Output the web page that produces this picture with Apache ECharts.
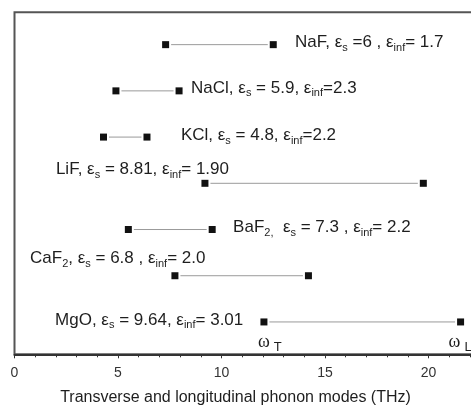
<!DOCTYPE html>
<html><head><meta charset="utf-8">
<script src="https://cdn.jsdelivr.net/npm/echarts@6/dist/echarts.min.js"></script>
<style>html,body{margin:0;padding:0;background:#fff}#c{width:471px;height:408px}</style>
</head><body><div id="c"></div>
<script>
// ---- data ----
const materials = ['NaF', 'NaCl', 'KCl', 'LiF', 'BaF2', 'CaF2', 'MgO'];
const rowIndex = [7, 6, 5, 4, 3, 2, 1];
const omegaT = [7.3, 4.9, 4.3, 9.2, 5.5, 7.75, 12.05];
const omegaL = [12.5, 7.95, 6.4, 19.75, 9.55, 14.2, 21.55];
const labelTexts = [
  'NaF, ε{s|s} =6 , ε{s|inf}= 1.7',
  'NaCl, ε{s|s} = 5.9, ε{s|inf}=2.3',
  'KCl, ε{s|s} = 4.8, ε{s|inf}=2.2',
  'LiF, ε{s|s} = 8.81, ε{s|inf}= 1.90',
  'BaF{s|2,}  ε{s|s} = 7.3 , ε{s|inf}= 2.2',
  'CaF{s|2}, ε{s|s} = 6.8 , ε{s|inf}= 2.0',
  'MgO, ε{s|s} = 9.64, ε{s|inf}= 3.01'
];
const xTickLabels = [0, 5, 10, 15, 20];
const omegaNames = ['ω{t|T}', 'ω{t|L}'];
const xTitle = 'Transverse and longitudinal phonon modes (THz)';

// ---- layout (label anchors, in THz along x and pixel offsets in y) ----
const labelX = [13.55, 8.53, 8.04, 2.0, 10.56, 0.75, 1.96];
const labelDy = [-2, -3, -2, -14, -2, -17, -2];
const omegaDx = [-6, -12];
const omegaDy = [20, 20];

const subRich = {
  s: { fontSize: 11, fontFamily: 'Liberation Sans', fill: '#1e1e1e', padding: [11, 0, 0, 0] },
  t: { fontSize: 13, fontFamily: 'Liberation Sans', fill: '#1e1e1e', padding: [10, 0, 0, 4] }
};

const chart = echarts.init(document.getElementById('c'));
const rows = materials.map((m, i) => [i, omegaT[i], omegaL[i], rowIndex[i]]);
const mgo = materials.indexOf('MgO');
const omegaData = [[0, omegaT[mgo], rowIndex[mgo]], [1, omegaL[mgo], rowIndex[mgo]]];

chart.setOption({
  animation: false,
  backgroundColor: '#fff',
  title: {
    text: xTitle, left: 'center', top: 390, padding: 0,
    textStyle: { fontSize: 16, fontWeight: 'normal', color: '#1e1e1e', fontFamily: 'Liberation Sans' }
  },
  grid: { left: 14.5, width: 517.5, top: 12.3, bottom: 53.7, show: true, borderColor: '#555', borderWidth: 2,
          outerBoundsMode: 'none', containLabel: false },
  xAxis: {
    type: 'value', min: 0, max: 25, interval: 5,
    axisLine: { show: true, lineStyle: { color: '#333', width: 2 } },
    axisTick: { show: true, length: 4, lineStyle: { color: '#333', width: 1 } },
    minorTick: { show: true, splitNumber: 5, length: 3, lineStyle: { color: '#333', width: 1 } },
    splitLine: { show: false },
    axisLabel: {
      fontSize: 14, color: '#333', margin: 12, fontFamily: 'Liberation Sans',
      showMaxLabel: false,
      formatter: v => (xTickLabels.indexOf(v) >= 0 ? String(v) : '')
    }
  },
  yAxis: { type: 'value', min: 0.3, max: 7.7, show: false },
  series: [
    {
      type: 'custom',
      data: rows,
      clip: false,
      renderItem: function (params, api) {
        const i = api.value(0);
        const y = api.value(3);
        const p1 = api.coord([api.value(1), y]);
        const p2 = api.coord([api.value(2), y]);
        const lp = api.coord([labelX[i], y]);
        const s = 7, gap = 2;
        return {
          type: 'group',
          children: [
            { type: 'line', shape: { x1: p1[0] + s / 2 + gap, y1: p1[1], x2: p2[0] - s / 2 - gap, y2: p2[1] },
              style: { stroke: '#9a9a9a', lineWidth: 1 } },
            { type: 'rect', shape: { x: p1[0] - s / 2, y: p1[1] - s / 2, width: s, height: s }, style: { fill: '#111' } },
            { type: 'rect', shape: { x: p2[0] - s / 2, y: p2[1] - s / 2, width: s, height: s }, style: { fill: '#111' } },
            { type: 'text', x: lp[0], y: lp[1] + labelDy[i],
              style: { text: labelTexts[i], rich: subRich, fontSize: 17, fontFamily: 'Liberation Sans',
                       fill: '#1e1e1e', align: 'left', verticalAlign: 'middle' } }
          ]
        };
      }
    },
    {
      type: 'custom',
      data: omegaData,
      clip: false,
      renderItem: function (params, api) {
        const k = api.value(0);
        const p = api.coord([api.value(1), api.value(2)]);
        return {
          type: 'text', x: p[0] + omegaDx[k], y: p[1] + omegaDy[k],
          style: { text: omegaNames[k], rich: subRich, fontSize: 18, fontFamily: 'Liberation Serif',
                   fill: '#1e1e1e', align: 'left', verticalAlign: 'middle' }
        };
      }
    }
  ]
});
</script></body></html>
